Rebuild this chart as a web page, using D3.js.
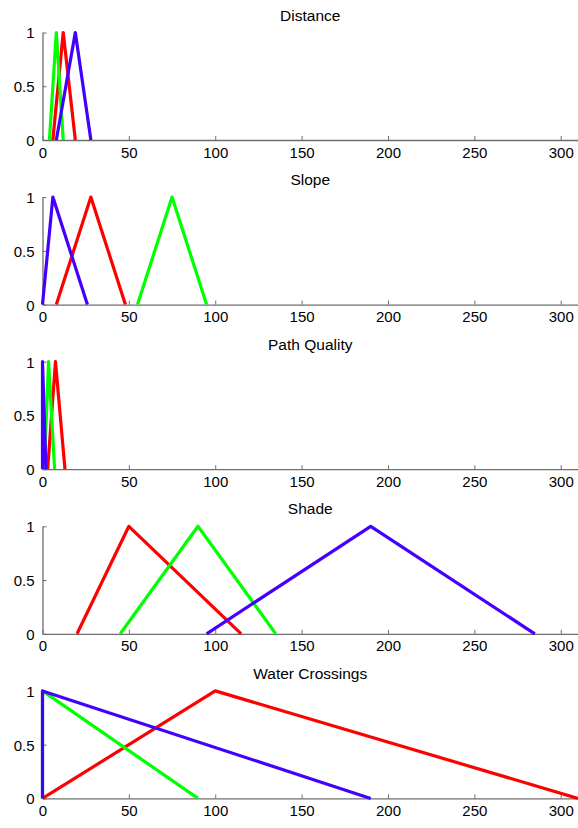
<!DOCTYPE html>
<html>
<head>
<meta charset="utf-8">
<script src="https://cdn.jsdelivr.net/npm/d3@7/dist/d3.min.js"></script>
<style>
  body { margin: 0; background: #fff; }
  svg text { font-family: "Liberation Sans", Arial, sans-serif; }
</style>
</head>
<body>
<div id="chart"></div>
<script>
// panel titles
var titles = ["Distance", "Slope", "Path Quality", "Shade", "Water Crossings"];

// triangle membership functions [a, b, c], order: red, green, blue
var distanceMF = [[6, 12, 19], [4, 8, 12], [8, 19, 28]];
var slopeMF = [[8, 28, 48], [55, 75, 95], [0, 6, 26]];
var pathQualityMF = [[3, 7.5, 13], [1, 3.5, 7], [0, 0, 2]];
var shadeMF = [[20, 50, 115], [45, 90, 135], [95, 190, 285]];
var waterMF = [[0, 100, 310], [0, 0, 90], [0, 0, 190]];

var panels = [distanceMF, slopeMF, pathQualityMF, shadeMF, waterMF];

// axis range and ticks
var xDomain = [0, 310];
var xTicks = [0, 50, 100, 150, 200, 250, 300];
var yTicks = [0, 0.5, 1];

var colors = ["#ff0000", "#00ff00", "#4400ff"];

var width = 578, height = 828;
var left = 42.5, right = 578;
var panelTop = 32.5, panelStep = 164.6, panelHeight = 107.5;

var svg = d3.select('#chart').append('svg')
    .attr('width', width)
    .attr('height', height);

var x = d3.scaleLinear().domain(xDomain).range([left, right]);
var y = d3.scaleLinear().domain([0, 1]).range([panelHeight, 0]);

var line = d3.line()
    .x(function(d) { return x(d[0]); })
    .y(function(d) { return y(d[1]); });

panels.forEach(function(mfs, i) {
    var g = svg.append('g')
        .attr('transform', 'translate(0,' + (panelTop + i * panelStep) + ')');

    // title
    g.append('text')
        .attr('x', (left + right) / 2)
        .attr('y', -12)
        .attr('text-anchor', 'middle')
        .attr('font-size', 15.5)
        .attr('fill', '#000')
        .text(titles[i]);

    // x axis, ticks pointing inward
    var xAxis = g.append('g')
        .attr('transform', 'translate(0,' + panelHeight + ')')
        .call(d3.axisBottom(x).tickValues(xTicks).tickSizeInner(-4)
              .tickSizeOuter(0).tickPadding(7));

    // y axis
    var yAxis = g.append('g')
        .attr('transform', 'translate(' + left + ',0)')
        .call(d3.axisLeft(y).tickValues(yTicks).tickSizeInner(-4)
              .tickSizeOuter(0).tickPadding(8)
              .tickFormat(function(d) { return d; }));

    [xAxis, yAxis].forEach(function(ax) {
        ax.select('.domain').attr('stroke', '#6e6e6e').attr('stroke-width', 1.3);
        ax.selectAll('.tick line').attr('stroke', '#6e6e6e');
        ax.selectAll('.tick text')
            .attr('font-size', 15)
            .attr('fill', '#000')
            .attr('font-family', '"Liberation Sans", Arial, sans-serif');
    });
    yAxis.selectAll('.tick text').attr('dy', '0.36em');

    // membership triangles
    mfs.forEach(function(p, j) {
        var pts = [[p[0], 0], [p[1], 1], [p[2], 0]];
        g.append('path')
            .datum(pts)
            .attr('d', line)
            .attr('fill', 'none')
            .attr('stroke', colors[j])
            .attr('stroke-width', 3.2)
            .attr('stroke-linejoin', 'round');
    });
});
</script>
</body>
</html>
